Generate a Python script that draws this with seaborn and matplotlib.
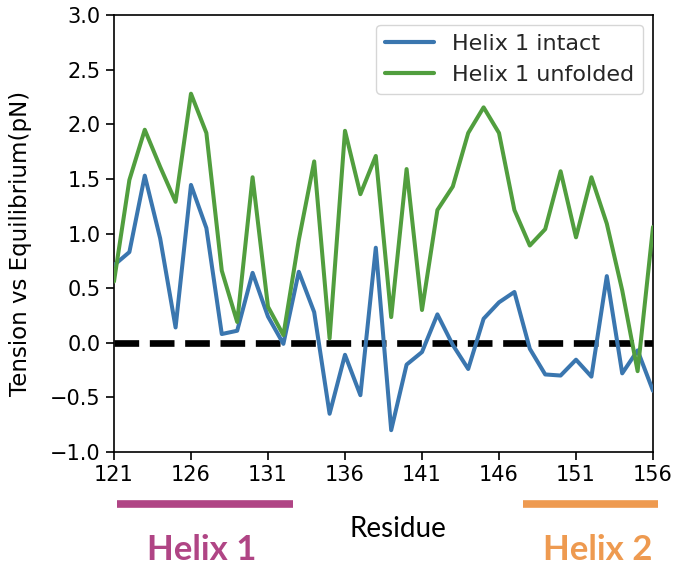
import numpy as np
import pandas as pd
import matplotlib
matplotlib.use("Agg")
import matplotlib.pyplot as plt
import matplotlib.transforms as mtransforms
import seaborn as sns

residues = list(range(121, 157))
intact = [0.71, 0.83, 1.53, 0.955, 0.14, 1.445, 1.05, 0.08, 0.11, 0.64,
          0.24, -0.01, 0.65, 0.28, -0.65, -0.11, -0.48, 0.87, -0.80, -0.20,
          -0.085, 0.26, -0.02, -0.24, 0.22, 0.37, 0.465, -0.055, -0.29, -0.30,
          -0.155, -0.31, 0.61, -0.28, -0.07, -0.44]
unfolded = [0.56, 1.49, 1.95, 1.61, 1.29, 2.28, 1.92, 0.66, 0.19, 1.515,
            0.33, 0.07, 0.94, 1.66, 0.04, 1.94, 1.36, 1.71, 0.235, 1.59,
            0.30, 1.215, 1.43, 1.92, 2.155, 1.92, 1.215, 0.89, 1.04, 1.57,
            0.965, 1.515, 1.09, 0.48, -0.26, 1.06]
series_names = ["Helix 1 intact", "Helix 1 unfolded"]
series_colors = ["#3a76af", "#519e3e"]
x_ticks = list(range(121, 157, 5))
y_ticks = [-1.0, -0.5, 0.0, 0.5, 1.0, 1.5, 2.0, 2.5, 3.0]
helix_names = ["Helix 1", "Helix 2"]
helix_spans = [(121.2, 132.6), (147.55, 156.3)]
helix_label_x = [126.7, 152.4]
helix_colors = ["#b04585", "#ee9a50"]

sns.set_theme(style="ticks")
plt.rcParams["font.family"] = ["DejaVu Sans"]

df = pd.DataFrame({
    "Residue": residues * 2,
    "Tension": intact + unfolded,
    "Series": [series_names[0]] * len(residues) + [series_names[1]] * len(residues),
})

fig = plt.figure(figsize=(6.76, 5.67), dpi=100)
ax = fig.add_axes([0.1686, 0.2028, 0.966 - 0.1686, 0.9735 - 0.2028])

ax.axhline(0, color="black", lw=4.8, ls="--", zorder=1)
sns.lineplot(data=df, x="Residue", y="Tension", hue="Series",
             palette=series_colors, lw=2.9, ax=ax, zorder=3)

ax.set_xlim(121, 156)
ax.set_ylim(-1, 3)
ax.set_xticks(x_ticks)
ax.set_yticks(y_ticks)
ax.set_yticklabels([f"{v:.1f}".replace("-", "\u2212") for v in y_ticks])
ax.tick_params(axis="both", labelsize=15, length=6, width=1.2, color="black", labelcolor="black")
for sp in ax.spines.values():
    sp.set_visible(True)
    sp.set_color("black")
    sp.set_linewidth(1.2)

ax.set_xlabel("")
ax.set_ylabel("Tension vs Equilibrium(pN)", fontsize=16.5, color="black")
ax.yaxis.set_label_coords(-0.152, 0.477)

leg = ax.legend(loc="upper right", fontsize=16, frameon=True, handlelength=2.2,
                borderaxespad=0.45)
for line in leg.get_lines():
    line.set_linewidth(3)
leg.get_frame().set_edgecolor("#cccccc")

trans = mtransforms.blended_transform_factory(ax.transData, ax.transAxes)
for name, (x0, x1), xc, col in zip(helix_names, helix_spans, helix_label_x, helix_colors):
    ax.plot([x0, x1], [-0.119, -0.119], color=col, lw=5.5, transform=trans,
            clip_on=False, solid_capstyle="butt")
    ax.text(xc, -0.247, name, transform=trans, ha="center", va="baseline",
            fontsize=25, fontweight="bold", color=col, family="Lato")

ax.text(139.44, -0.1945, "Residue", transform=trans, ha="center", va="baseline",
        fontsize=20, color="black", family="Lato")

fig.savefig("out.png", dpi=100)
